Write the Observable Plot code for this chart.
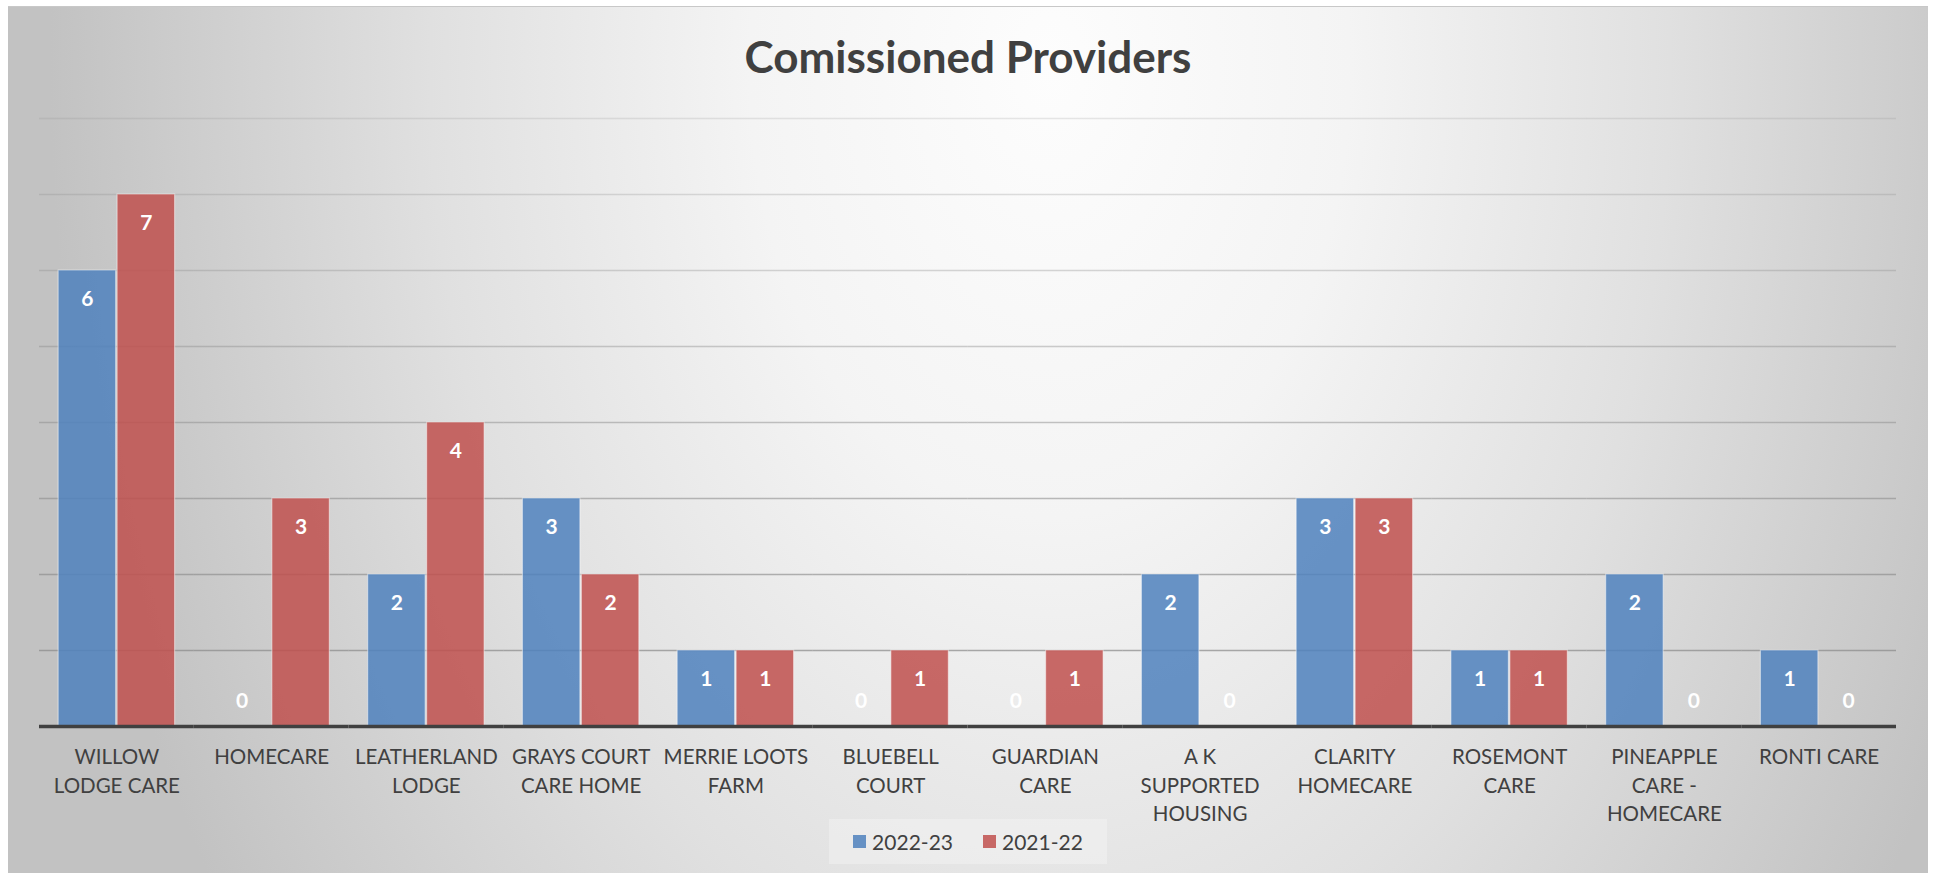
<!DOCTYPE html>
<html>
<head>
<meta charset="utf-8">
<script src="https://cdn.jsdelivr.net/npm/d3@7"></script>
<script src="https://cdn.jsdelivr.net/npm/@observablehq/plot@0.6"></script>
<style>
  html, body { margin: 0; padding: 0; background: #ffffff; overflow: hidden; }
  #frame {
    position: absolute; left: 8px; top: 6px; width: 1920px; height: 867px;
    background: radial-gradient(ellipse 1000px 1500px at 1042px 60px, #fdfdfd 0%, #f4f4f4 30%, #e0e0e0 62%, #c2c2c2 100%);
    border-top: 1px solid #c8c8c8;
    box-sizing: border-box;
    overflow: hidden;
    font-family: Lato, "Open Sans", sans-serif;
  }
  #title {
    height: 89px; line-height: 98px; text-align: center;
    font-size: 44px; font-weight: 700; color: #404040;
  }
  #legend {
    position: absolute; left: 821px; top: 812px; width: 278px; height: 45px;
    background: rgba(255,255,255,0.28);
    display: flex; align-items: center; justify-content: center;
    font-size: 21px; color: #404040;
  }
  .item { display: flex; align-items: center; }
  .item + .item { margin-left: 30px; }
  .sw { width: 13px; height: 13px; margin-right: 6px; opacity: 0.85; }
</style>
</head>
<body>
<div id="frame">
  <div id="title">Comissioned Providers</div>
  <div id="chart"></div>
  <div id="legend"></div>
</div>
<script>
const categories = ["WILLOW LODGE CARE","HOMECARE","LEATHERLAND LODGE","GRAYS COURT CARE HOME","MERRIE LOOTS FARM","BLUEBELL COURT","GUARDIAN CARE","A K SUPPORTED HOUSING","CLARITY HOMECARE","ROSEMONT CARE","PINEAPPLE CARE - HOMECARE","RONTI CARE"];
const tickLabels = ["WILLOW\nLODGE CARE","HOMECARE","LEATHERLAND\nLODGE","GRAYS COURT\nCARE HOME","MERRIE LOOTS\nFARM","BLUEBELL\nCOURT","GUARDIAN\nCARE","A K\nSUPPORTED\nHOUSING","CLARITY\nHOMECARE","ROSEMONT\nCARE","PINEAPPLE\nCARE -\nHOMECARE","RONTI CARE"];
const series = ["2022-23", "2021-22"];
const values2022_23 = [6,0,2,3,1,0,0,2,3,1,2,1];
const values2021_22 = [7,3,4,2,1,1,1,0,3,1,0,0];
const gridTicks = [1,2,3,4,5,6,7,8];
const colors = ["#4F81BD", "#C0504D"];

const data = [];
categories.forEach((c, i) => {
  data.push({category: c, series: series[0], value: values2022_23[i]});
  data.push({category: c, series: series[1], value: values2021_22[i]});
});
const labelOf = new Map(categories.map((c, i) => [c, tickLabels[i]]));

const chart = Plot.plot({
  width: 1920,
  height: 778,
  marginTop: 22,
  marginBottom: 148,
  marginLeft: 31,
  marginRight: 32,
  style: {fontFamily: "Lato, 'Open Sans', sans-serif", background: "transparent", overflow: "visible"},
  fx: {domain: categories, padding: 0, round: false, label: null},
  x: {domain: series, paddingInner: 0.025, paddingOuter: 0.325, round: false, axis: null},
  y: {domain: [0, 8], axis: null},
  color: {domain: series, range: colors},
  marks: [
    Plot.ruleY(gridTicks, {stroke: "#8a8a8a", strokeWidth: 1.3, strokeOpacity: d => 0.72 - (d - 1) * 0.075}),
    Plot.barY(data.filter(d => d.value > 0), {fx: "category", x: "series", y: "value", fill: "series", fillOpacity: 0.85, stroke: "#ffffff", strokeOpacity: 0.45, strokeWidth: 1.2}),
    Plot.ruleY([0], {stroke: "#404040", strokeWidth: 3.5}),
    Plot.text(data.filter(d => d.value > 0), {fx: "category", x: "series", y: "value", text: d => String(d.value), dy: 28.5, fill: "white", fontWeight: "bold", fontSize: 21}),
    Plot.text(data.filter(d => d.value === 0), {fx: "category", x: "series", y: "value", text: d => String(d.value), dy: -25.5, fill: "white", fontWeight: "bold", fontSize: 21}),
    Plot.axisFx({anchor: "bottom", tickSize: 0, tickPadding: 17, fontSize: 20.5, lineHeight: 1.4, fill: "#404040", label: null, tickFormat: c => labelOf.get(c)})
  ]
});
document.getElementById("chart").appendChild(chart);

const legend = document.getElementById("legend");
series.forEach((s, i) => {
  const item = document.createElement("div");
  item.className = "item";
  const sw = document.createElement("div");
  sw.className = "sw";
  sw.style.background = colors[i];
  const t = document.createElement("span");
  t.textContent = s;
  item.appendChild(sw);
  item.appendChild(t);
  legend.appendChild(item);
});
</script>
</body>
</html>
